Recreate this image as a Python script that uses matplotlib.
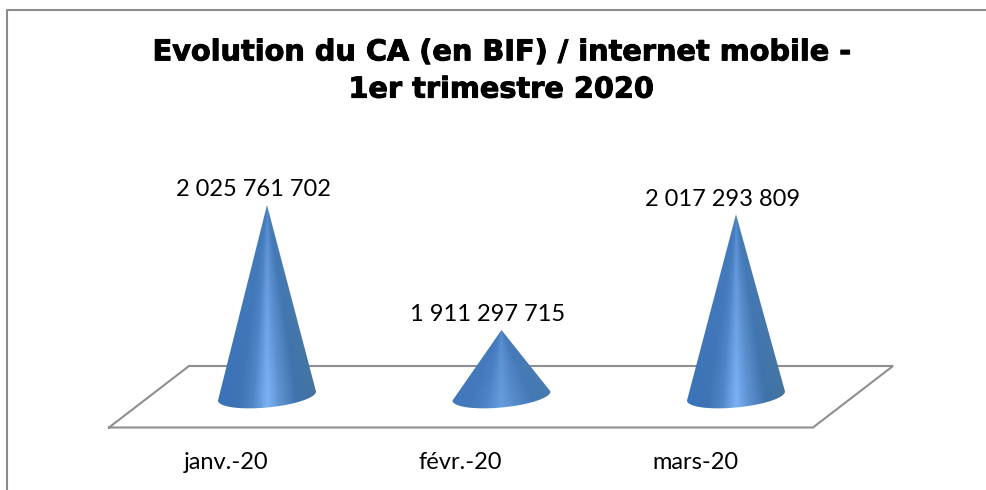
import numpy as np
import matplotlib
matplotlib.use('Agg')
import matplotlib.pyplot as plt
import matplotlib.patheffects as pe
from matplotlib.colors import LinearSegmentedColormap, to_rgb
from matplotlib.patches import PathPatch
from matplotlib.path import Path

# Data
months = ['janv.-20', 'févr.-20', 'mars-20']
ca_values = [2025761702, 1911297715, 2017293809]
value_labels = ['2 025 761 702', '1 911 297 715', '2 017 293 809']
title = 'Evolution du CA (en BIF) / internet mobile -\n1er trimestre 2020'

W, H = 987, 490
fig = plt.figure(figsize=(W / 100, H / 100), dpi=100)
ax = fig.add_axes([0, 0, 1, 1])
ax.axis('off')

# value axis is truncated, the cones start well above zero
px_per_x = 234.5
px_per_val = 125 / (ca_values[0] - ca_values[1])
base_val = ca_values[0] - (396 - 205) / px_per_val
val_top = base_val + 396 / px_per_val
val_bot = base_val - (H - 396) / px_per_val


def px(x, y):
    # pixel position (from top left) to data position
    return x / px_per_x - 267 / px_per_x, val_top - y / px_per_val


# outer frame, open on the right and bottom
frame_c = '#8c8c8c'
ax.plot(*zip(px(7, H), px(7, 10.5), px(W, 10.5)), color=frame_c, lw=1.5)

# floor of the 3d chart
floor = [px(109, 427.5), px(189, 366), px(893, 366), px(813, 427.5), px(109, 427.5)]
ax.plot(*zip(*floor), color='#8f8f8f', lw=1.5, solid_joinstyle='miter')

cmap = LinearSegmentedColormap.from_list('cone', [
    (0.0, '#3a73b8'), (0.22, '#3f74b4'), (0.36, '#4f86c8'), (0.5, '#7cb3f5'),
    (0.62, '#5f94d2'), (0.8, '#3f72ab'), (1.0, '#43749f')])
tip_c = np.array(to_rgb('#4a80c2'))

half_w = 49
ell_b = 11.5
tilt = 4.5

for i, v in enumerate(ca_values):
    cx = 267 + i * px_per_x
    tip = (v - base_val) * px_per_val  # cone height in pixels
    t = np.linspace(0, np.pi, 60)
    outline = [(cx, 396 - tip)]
    for a in t:
        outline.append((cx + half_w * np.cos(a), 396 - tilt * np.cos(a) + ell_b * np.sin(a)))
    outline.append((cx, 396 - tip))
    path = Path([px(a, b) for a, b in outline])
    patch = PathPatch(path, fc='none', ec='none', transform=ax.transData)
    ax.add_patch(patch)

    # shading follows the slope of the cone, highlight fades towards the tip
    ys = np.arange(396 - tip, 412, 0.5)
    xs = np.arange(cx - half_w - 1, cx + half_w + 1, 0.5)
    xx, yy = np.meshgrid(xs, ys)
    w = np.maximum(half_w * (yy - (396 - tip)) / tip, 0.5)
    u = np.clip((xx - cx) / w, -1, 1) / 2 + 0.5
    rgb = cmap(u)[:, :, :3]
    fade = np.clip(1 - (yy - (396 - tip)) / 190, 0, 1)[:, :, None] * 0.7
    rgb = rgb * (1 - fade) + tip_c * fade
    x0, y0 = px(xs[0], ys[-1])
    x1, y1 = px(xs[-1], ys[0])
    im = ax.imshow(rgb, extent=[x0, x1, y0, y1], origin='upper',
                   aspect='auto', interpolation='bilinear', zorder=3)
    im.set_clip_path(patch)

    lx, ly = px(cx - 13.5, 190 + (ca_values[0] - v) * px_per_val)
    ax.text(lx, ly, value_labels[i], ha='center', va='center', fontsize=17,
            family='Lato', color='black', zorder=4)
    lx, ly = px(cx - 41, 463)
    ax.text(lx, ly, months[i], ha='center', va='center', fontsize=17,
            family='Lato', color='black')

ax.set_xlim(-267 / px_per_x, (W - 267) / px_per_x)
ax.set_ylim(val_bot, val_top)

tx, ty = px(501, 71)
ax.text(tx, ty, title, ha='center', va='center', fontsize=20.7, fontweight='bold',
        family='DejaVu Sans', color='black', linespacing=1.42,
        path_effects=[pe.withStroke(linewidth=0.7, foreground='black')])

fig.savefig('out.png', dpi=100)
